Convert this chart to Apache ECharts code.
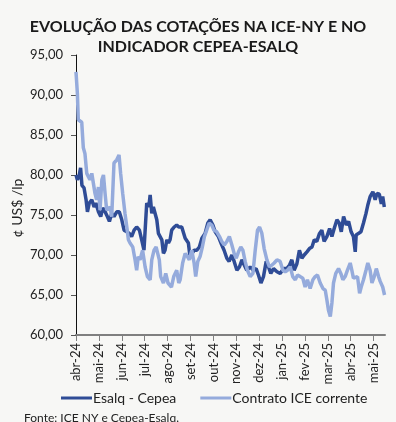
<!DOCTYPE html>
<html>
<head>
<meta charset="utf-8">
<script src="https://cdn.jsdelivr.net/npm/echarts@6/dist/echarts.min.js"></script>
<style>
  html, body { margin: 0; padding: 0; background: #f7f7f5; }
  #chart { width: 396px; height: 422px; }
</style>
</head>
<body>
<div id="chart"></div>
<script>
// rótulos dos meses (eixo x em meses a partir de abr-24)
var monthLabels = ['abr-24', 'mai-24', 'jun-24', 'jul-24', 'ago-24', 'set-24', 'out-24',
  'nov-24', 'dez-24', 'jan-25', 'fev-25', 'mar-25', 'abr-25', 'mai-25']
var yTicks = [60, 65, 70, 75, 80, 85, 90, 95]

// Esalq - Cepea: posição (meses desde abr-24) e valor (¢ US$/lp)
var esalqMonths = [0, 0.06, 0.13, 0.2, 0.26, 0.35, 0.44, 0.5, 0.58, 0.69, 0.79, 0.87, 0.98,
  1.08, 1.17, 1.27, 1.37, 1.46, 1.56, 1.66, 1.78, 1.89, 2.0, 2.1, 2.22, 2.33, 2.43, 2.54,
  2.65, 2.77, 2.87, 2.97, 3.09, 3.18, 3.24, 3.31, 3.38, 3.45, 3.53, 3.6, 3.67, 3.75, 3.82,
  3.89, 3.97, 4.04, 4.11, 4.18, 4.29, 4.4, 4.49, 4.62, 4.77, 4.91, 4.98, 5.06, 5.16, 5.28,
  5.39, 5.5, 5.64, 5.76, 5.86, 5.98, 6.08, 6.22, 6.37, 6.47, 6.59, 6.69, 6.81, 6.91, 7.03,
  7.14, 7.25, 7.35, 7.46, 7.61, 7.75, 7.87, 7.97, 8.08, 8.19, 8.31, 8.41, 8.51, 8.63, 8.78,
  8.92, 9.07, 9.21, 9.33, 9.43, 9.53, 9.65, 9.76, 9.87, 9.97, 10.09, 10.2, 10.31, 10.41,
  10.52, 10.64, 10.74, 10.84, 10.96, 11.08, 11.18, 11.28, 11.4, 11.5, 11.59, 11.69, 11.81,
  11.91, 12.02, 12.12, 12.2, 12.24, 12.34, 12.45, 12.56, 12.67, 12.75, 12.85, 12.97, 13.07,
  13.15, 13.25, 13.34, 13.4, 13.47]
var esalqValues = [80, 79.4, 79.8, 80.9, 78.7, 78.4, 76.9, 75.4, 76.5, 76.9, 76, 76.5, 75.4,
  74.8, 75.9, 75.4, 74.8, 74.2, 75.2, 74.8, 75.4, 75.4, 74.4, 73.1, 72.9, 72.7, 72.3, 73.1,
  73.5, 73.1, 71.9, 70.6, 76.5, 76, 77.5, 75.2, 76, 75.9, 74.4, 72.7, 72.5, 71.9, 70.2,
  70.6, 71.9, 71.5, 71.9, 73.1, 73.5, 73.75, 73.5, 73.5, 72.1, 71.5, 69.8, 70, 70.6, 70.6,
  71, 72.1, 72.7, 74, 74.4, 73.75, 72.9, 72.3, 71.25, 70.6, 69.6, 69.2, 70, 69.2, 68.1,
  68.5, 69.4, 68.75, 68.1, 68.5, 68.1, 68.3, 67.5, 66.5, 67.3, 69.2, 68.5, 67.7, 68.3, 67.9,
  67.7, 68.3, 68.3, 68.75, 69.4, 68.1, 68.9, 70.6, 69.6, 70, 70.4, 70.8, 71, 71.9,
  71.7, 72.7, 73.1, 71.7, 72.3, 73.3, 72.3, 73.3, 74.4, 74, 72.9, 74.8, 73.75,
  74.2, 72.9, 72.3, 70.4, 72.5, 72.7, 72.9, 74, 75.2, 76.25, 77.3, 77.9, 76.9,
  77.7, 77.6, 76.4, 77.3, 76]

// Contrato ICE corrente
var iceMonths = [0, 0.06, 0.1, 0.25, 0.32, 0.39, 0.47, 0.54, 0.61, 0.69, 0.76, 0.83, 0.9,
  0.98, 1.05, 1.13, 1.2, 1.27, 1.34, 1.42, 1.49, 1.56, 1.66, 1.78, 1.88, 1.95, 2.04, 2.14,
  2.22, 2.29, 2.36, 2.48, 2.58, 2.65, 2.72, 2.8, 2.91, 3.02, 3.12, 3.24, 3.31, 3.41, 3.5,
  3.57, 3.64, 3.7, 3.82, 3.92, 4.02, 4.17, 4.27, 4.4, 4.49, 4.55, 4.66, 4.77, 4.87, 4.95,
  5.06, 5.16, 5.23, 5.32, 5.42, 5.52, 5.61, 5.71, 5.82, 5.93, 6.03, 6.15, 6.27, 6.37, 6.48,
  6.59, 6.7, 6.81, 6.91, 7.0, 7.1, 7.2, 7.29, 7.39, 7.49, 7.61, 7.73, 7.83, 7.93, 8.02,
  8.12, 8.22, 8.34, 8.45, 8.56, 8.66, 8.78, 8.92, 9.04, 9.14, 9.24, 9.36, 9.47, 9.58, 9.68,
  9.79, 9.91, 10.01, 10.11, 10.23, 10.35, 10.45, 10.55, 10.67, 10.79, 10.89, 10.96, 11.03,
  11.11, 11.18, 11.25, 11.35, 11.47, 11.57, 11.66, 11.76, 11.86, 11.98, 12.05, 12.12, 12.2,
  12.3, 12.39, 12.46, 12.56, 12.67, 12.75, 12.85, 12.93, 13.03, 13.12, 13.22, 13.29, 13.4,
  13.48]
var iceValues = [92.9, 90.2, 86.9, 86.6, 83.4, 82.7, 80.2, 79.8, 79.4, 80.2, 80, 77.7, 76.9,
  78.5, 75.6, 79.4, 80, 77.7, 75.6, 75.5, 76, 74.8, 81.5, 81.9, 82.5, 80.2, 77.7, 75.2,
  73.5, 71.9, 71.5, 71, 69.4, 68.1, 69.8, 69.4, 70.6, 68.5, 67.3, 66.9, 69.4, 70.6, 71,
  70.2, 69.4, 67.3, 66.5, 67.7, 66.5, 66, 67.3, 68.1, 66.5, 66.9, 69, 70.2, 69.8, 69.4,
  70.6, 69, 67.3, 69.2, 69.8, 71, 72.3, 73.1, 74, 73.75, 73.1, 72.9, 72.3, 71.7, 71.25,
  71.7, 72.3, 71.25, 70.2, 69.6, 70.4, 71, 70.6, 69.2, 68.1, 67.3, 67.7, 70.6, 73.1, 73.5,
  72.7, 70.8, 69.4, 68.5, 68.75, 69, 69.4, 69.2, 68.1, 67.9, 68.1, 68.5, 67.3, 66.9, 67.5,
  67.3, 67.1, 66, 66.9, 65.8, 66.9, 67.3, 67.5, 66.5, 65.8, 65.6, 64.4, 63.1,
  62.3, 64, 66.5, 67.7, 68.3, 67.7, 66.9, 67.3, 68.1, 69, 68.1, 67.1, 66.9,
  67.3, 65.2, 66, 66.9, 68.1, 69, 68.1, 66.5, 67.3, 68.3, 67.3, 66.7, 66,
  65]

function pairs (xs, ys) {
  return xs.map(function (x, i) { return [x, ys[i]] })
}

var dom = document.getElementById('chart')
var chart = echarts.init(dom, null, { renderer: 'canvas' })
var font = 'Lato, "Open Sans", sans-serif'
var monthIdx = monthLabels.map(function (m, i) { return i })

var option = {
  backgroundColor: '#f7f7f5',
  animation: false,
  textStyle: { fontFamily: font },
  title: [
    {
      text: 'EVOLUÇÃO DAS COTAÇÕES NA ICE-NY E NO',
      left: 'center',
      top: 14,
      textStyle: { fontSize: 16, fontWeight: 'bold', color: '#1a1a1a', fontFamily: font }
    },
    {
      text: 'INDICADOR CEPEA-ESALQ',
      left: 'center',
      top: 34,
      textStyle: { fontSize: 16, fontWeight: 'bold', color: '#1a1a1a', fontFamily: font }
    },
    {
      text: 'Fonte: ICE NY e Cepea-Esalq.',
      left: 19,
      top: 407,
      textStyle: { fontSize: 12, fontWeight: 'normal', color: '#222', fontFamily: font }
    }
  ],
  graphic: [
    {
      type: 'text',
      x: 17,
      y: 208,
      rotation: Math.PI / 2,
      style: {
        text: '¢ US$ /lp',
        fill: '#222',
        font: '14px ' + font,
        align: 'center',
        verticalAlign: 'middle'
      }
    }
  ],
  legend: {
    left: 56,
    top: 386,
    itemWidth: 31,
    itemHeight: 3,
    itemGap: 24,
    icon: 'rect',
    textStyle: { fontSize: 14, color: '#222', fontFamily: font, padding: [0, 0, 0, -4] },
    data: ['Esalq - Cepea', 'Contrato ICE corrente']
  },
  grid: { left: 76, right: 11, top: 55, bottom: 87 },
  xAxis: {
    type: 'value',
    min: 0,
    max: 13.5,
    interval: 1,
    splitLine: { show: false },
    axisLine: { lineStyle: { color: '#7f7f7f', width: 2 } },
    axisTick: { show: true, length: 6, customValues: monthIdx, lineStyle: { color: '#7f7f7f' } },
    axisLabel: {
      rotate: 90,
      fontSize: 13,
      color: '#222',
      margin: 8,
      customValues: monthIdx,
      formatter: function (v) { return monthLabels[v] || '' }
    }
  },
  yAxis: {
    type: 'value',
    min: yTicks[0],
    max: yTicks[yTicks.length - 1],
    interval: 5,
    splitLine: { show: false },
    axisLine: { show: true, lineStyle: { color: '#111', width: 1 } },
    axisTick: { show: true, length: 5, lineStyle: { color: '#555' } },
    axisLabel: {
      fontSize: 13,
      color: '#222',
      margin: 13,
      formatter: function (v) { return v.toFixed(2).replace('.', ',') }
    }
  },
  series: [
    {
      name: 'Esalq - Cepea',
      type: 'line',
      showSymbol: false,
      symbol: 'none',
      color: '#2f4c96',
      lineStyle: { width: 3.5, color: '#2f4c96' },
      data: pairs(esalqMonths, esalqValues)
    },
    {
      name: 'Contrato ICE corrente',
      type: 'line',
      showSymbol: false,
      symbol: 'none',
      color: '#95abdc',
      lineStyle: { width: 3.5, color: '#95abdc' },
      data: pairs(iceMonths, iceValues)
    }
  ]
}

chart.setOption(option)
</script>
</body>
</html>
